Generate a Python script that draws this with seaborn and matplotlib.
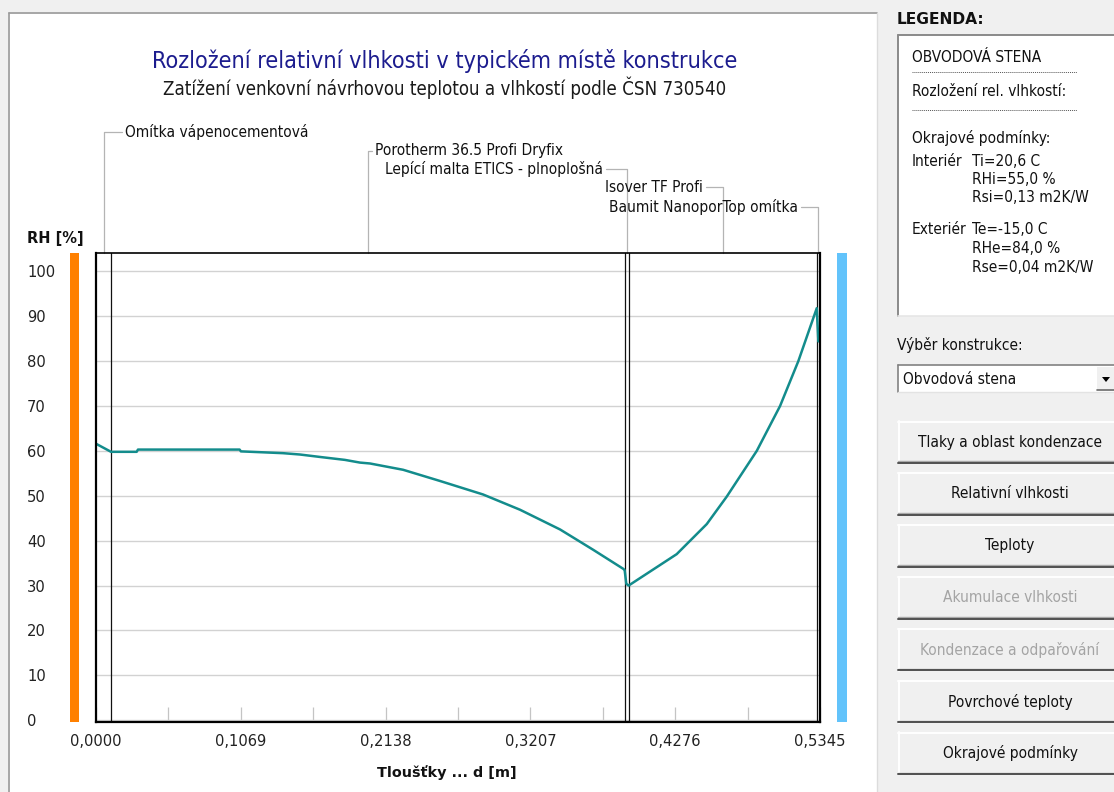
import matplotlib
matplotlib.use("Agg")
import numpy as np
import pandas as pd
import matplotlib.pyplot as plt
import seaborn as sns
from matplotlib.patches import Rectangle, Polygon
from matplotlib.lines import Line2D
from matplotlib import font_manager

# ------------------------------------------------------------------ data
title = "Rozložení relativní vlhkosti v typickém místě konstrukce"
subtitle = "Zatížení venkovní návrhovou teplotou a vlhkostí podle ČSN 730540"
layer_names = ["Omítka vápenocementová", "Porotherm 36.5 Profi Dryfix",
               "Lepící malta ETICS - plnoplošná", "Isover TF Profi",
               "Baumit NanoporTop omítka"]
layer_bounds_m = [0.0, 0.0111, 0.3903, 0.3932, 0.5320, 0.5345]

depth_m = [0.0, 0.0111, 0.030, 0.031, 0.106, 0.107, 0.138, 0.1506, 0.1669,
           0.1838, 0.1949, 0.2023, 0.2267, 0.2540, 0.2857, 0.3130, 0.3426,
           0.3669, 0.3894, 0.3903, 0.3915, 0.3932, 0.4287, 0.4509, 0.4656,
           0.4878, 0.5050, 0.5185, 0.5321, 0.5333]
rh_pct = [61.6, 59.8, 59.8, 60.3, 60.3, 59.9, 59.5, 59.2, 58.6,
          58.0, 57.4, 57.2, 55.8, 53.3, 50.3, 46.9, 42.5,
          38.0, 33.7, 33.4, 30.4, 30.0, 37.0, 43.7, 49.8,
          60.0, 70.0, 80.0, 91.8, 84.4]

x_tick_labels = ["0,0000", "0,1069", "0,2138", "0,3207", "0,4276", "0,5345"]
y_ticks = [0, 10, 20, 30, 40, 50, 60, 70, 80, 90, 100]
x_label = "Tloušťky ... d [m]"
y_label = "RH [%]"

legend_header = "LEGENDA:"
legend_construction = "OBVODOVÁ STENA"
legend_kind = "Rozložení rel. vlhkostí:"
legend_bc = "Okrajové podmínky:"
interior_label = "Interiér"
interior_vals = ["Ti=20,6 C", "RHi=55,0 %", "Rsi=0,13 m2K/W"]
exterior_label = "Exteriér"
exterior_vals = ["Te=-15,0 C", "RHe=84,0 %", "Rse=0,04 m2K/W"]
select_label = "Výběr konstrukce:"
select_value = "Obvodová stena"
button_labels = ["Tlaky a oblast kondenzace", "Relativní vlhkosti", "Teploty",
                 "Akumulace vlhkosti", "Kondenzace a odpařování",
                 "Povrchové teploty", "Okrajové podmínky"]
button_enabled = [True, True, True, False, False, True, True]

# ------------------------------------------------------------------ style
sns.set_style("white")
flist = font_manager.fontManager.ttflist
avail = {f.name for f in flist}
STRETCH = "normal"
if "Liberation Sans Narrow" in avail:
    FAM = ["Liberation Sans Narrow", "DejaVu Sans"]
elif any(f.name == "DejaVu Sans" and f.stretch == "condensed" for f in flist):
    FAM = ["DejaVu Sans"]
    STRETCH = "condensed"
else:
    FAM = [n for n in ["Liberation Sans", "DejaVu Sans"] if n in avail]
BOLD_FAM = ["DejaVu Sans"]
plt.rcParams["font.family"] = FAM
plt.rcParams["font.stretch"] = STRETCH

W, H = 1114, 792
fig = plt.figure(figsize=(W / 100, H / 100), dpi=100, facecolor="#f0f0f0")
renderer = fig.canvas.get_renderer()


def fx(x):
    return x / W


def fy(y):
    return 1 - y / H


def R(x0, y0, x1, y1, **kw):
    kw.setdefault("zorder", -5)
    fig.add_artist(Rectangle((fx(x0), fy(y1)), (x1 - x0) / W, (y1 - y0) / H,
                             transform=fig.transFigure, **kw))


def L(x0, y0, x1, y1, **kw):
    kw.setdefault("zorder", -4)
    fig.add_artist(Line2D([fx(x0), fx(x1)], [fy(y0), fy(y1)],
                          transform=fig.transFigure, **kw))


def size_for(s, w, **kw):
    t = fig.text(0, 0, s, fontsize=10, **kw)
    ww = t.get_window_extent(renderer).width
    t.remove()
    return 10 * w / ww


def T(x, y, s, size, **kw):
    kw.setdefault("va", "center")
    return fig.text(fx(x), fy(y), s, fontsize=size, **kw)


def fit(t, w):
    t.set_fontsize(t.get_fontsize() * w / t.get_window_extent(renderer).width)


UI_SIZE = size_for("Tlaky a oblast kondenzace", 184)
CH_SIZE = size_for("Lepící malta ETICS - plnoplošná", 218)
TICK_SIZE = size_for("0,0000", 52)

# ------------------------------------------------------------------ panels
R(10, 14, 877, 800, fc="white", ec="none")
L(9, 13, 877, 13, color="#9a9a9a", lw=1.2)
L(9, 13, 9, 800, color="#9a9a9a", lw=1.2)
L(877, 13, 877, 800, color="#dcdcdc", lw=1.0)

# interior / exterior colour bars
R(70, 253, 79, 722, fc="#ff8000", ec="none", zorder=1)
R(837, 253, 847, 722, fc="#62c3fb", ec="none", zorder=1)

# ------------------------------------------------------------------ chart
ax = fig.add_axes([fx(96), fy(722), (820 - 96) / W, (722 - 253) / H])
ax.set_facecolor("white")
total = layer_bounds_m[-1]
ylo, yhi = -0.4, 104.1

sns.lineplot(x=depth_m, y=rh_pct, ax=ax, color="#138c8c", lw=1.8,
             estimator=None, sort=False, zorder=5)
ax.set_xlim(0, total)
ax.set_ylim(ylo, yhi)

for b in layer_bounds_m[1:-1]:
    ax.axvline(b, color="#111111", lw=0.9, zorder=4)

ax.set_yticks(y_ticks)
ax.set_yticklabels([str(v) for v in y_ticks])
ax.yaxis.grid(True, color="#d2d2d2", lw=1.0)
ax.xaxis.grid(False)
ax.set_axisbelow(True)

major = [total * k / 5 for k in range(6)]
minor = [total * (2 * k + 1) / 10 for k in range(5)]
ax.set_xticks(major)
ax.set_xticklabels(x_tick_labels)
ax.set_xticks(minor, minor=True)
ax.tick_params(axis="x", which="both", direction="in", length=10.8, width=0.9,
               color="#c4c4c4", pad=9, labelsize=TICK_SIZE, labelcolor="#222222",
               bottom=True, top=False)
ax.tick_params(axis="y", length=0, pad=49.7, labelsize=TICK_SIZE,
               labelcolor="#222222")
for lab in ax.get_yticklabels():
    lab.set_horizontalalignment("left")
ax.set_xlabel("")
ax.set_ylabel("")
for name, s in ax.spines.items():
    s.set_visible(True)
    s.set_color("black")
    s.set_linewidth(1.6 if name != "top" else 1.2)
    s.set_zorder(6)

# layer labels with leaders
label_pos = [(125, 132, "left"), (375, 151, "left"), (603, 169, "right"),
             (703, 187, "right"), (798, 207, "right")]
for i, name in enumerate(layer_names):
    mid = (layer_bounds_m[i] + layer_bounds_m[i + 1]) / 2
    px, py, ha = label_pos[i]
    ax.annotate(name, xy=(mid, yhi), xycoords="data",
                xytext=(px, H - py), textcoords="figure pixels",
                ha=ha, va="center", fontsize=CH_SIZE, color="#111111",
                annotation_clip=False,
                arrowprops=dict(arrowstyle="-", color="#b4b4b4", lw=0.9,
                                shrinkA=0, shrinkB=0,
                                connectionstyle="angle,angleA=0,angleB=90,rad=0"))

# titles and axis labels
t = T(445, 61, title, 14, ha="center", color="#1c1c8e")
fit(t, 590)
t = T(445, 88, subtitle, 12, ha="center", color="#1a1a1a")
fit(t, 566)
t = T(27, 238, y_label, 10, ha="left", weight="bold", family=BOLD_FAM,
      stretch="normal", color="#111111")
fit(t, 57)
t = T(446.5, 773, x_label, 10, ha="center", weight="bold", family=BOLD_FAM,
      stretch="normal", color="#111111")
fit(t, 139)

# ------------------------------------------------------------------ right panel
t = T(897, 20, legend_header, 10, ha="left", weight="bold", family=BOLD_FAM,
      stretch="normal", color="#111111")
fit(t, 88)

R(898, 35, 1116, 316, fc="white", ec="none")
L(898, 35, 1114, 35, color="#8a8a8a", lw=1.4)
L(898, 35, 898, 316, color="#8a8a8a", lw=1.4)
L(898, 316, 1114, 316, color="#e6e6e6", lw=1.2)

T(912, 57, legend_construction, UI_SIZE, color="#111111")
L(912, 72, 1077, 72, color="#555555", lw=0.7, ls=(0, (1, 1)), zorder=2)
T(912, 91, legend_kind, UI_SIZE, color="#111111")
L(912, 110, 1077, 110, color="#555555", lw=0.7, ls=(0, (1, 1)), zorder=2)
T(912, 138, legend_bc, UI_SIZE, color="#111111")
T(912, 161, interior_label, UI_SIZE, color="#111111")
for k, v in enumerate(interior_vals):
    T(972, 161 + 18.5 * k, v, UI_SIZE, color="#111111")
T(912, 230, exterior_label, UI_SIZE, color="#111111")
for k, v in enumerate(exterior_vals):
    T(972, 230 + 18.5 * k, v, UI_SIZE, color="#111111")

T(897, 345, select_label, UI_SIZE, color="#111111")
R(898, 365, 1116, 392, fc="white", ec="none")
L(898, 365, 1114, 365, color="#828282", lw=1.2)
L(898, 365, 898, 392, color="#828282", lw=1.2)
L(898, 392, 1114, 392, color="#e3e3e3", lw=1.0)
R(1097, 367, 1116, 390, fc="#f0f0f0", ec="none", zorder=-3)
L(1097, 390, 1114, 390, color="#6a6a6a", lw=1.2, zorder=-2)
fig.add_artist(Polygon([(fx(1102), fy(377)), (fx(1110), fy(377)), (fx(1106), fy(382))],
                       closed=True, fc="black", ec="none", transform=fig.transFigure))
T(903, 379, select_value, UI_SIZE, color="#111111")

for i, (lab, en) in enumerate(zip(button_labels, button_enabled)):
    top = 421 + i * 51.9
    R(898, top, 1116, top + 42, fc="#f0f0f0", ec="none")
    L(898, top + 0.5, 1114, top + 0.5, color="#ffffff", lw=1.4)
    L(898.5, top, 898.5, top + 42, color="#ffffff", lw=1.4)
    L(898, top + 40.3, 1114, top + 40.3, color="#a8a8a8", lw=1.0)
    L(898, top + 41.8, 1114, top + 41.8, color="#505050", lw=1.4)
    T(1010, top + 21, lab, UI_SIZE, ha="center",
      color="#111111" if en else "#a4a4a4")

fig.savefig("out.png", dpi=100, facecolor=fig.get_facecolor())
